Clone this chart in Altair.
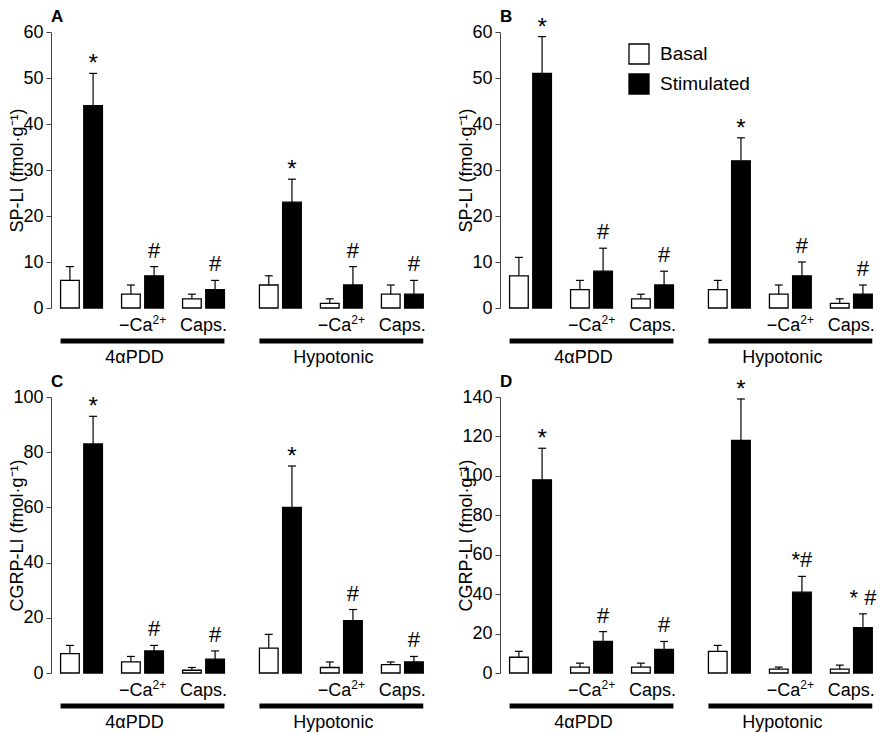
import altair as alt
import pandas as pd

# ---------------- data ----------------
treatments = ["4αPDD", "Hypotonic"]
cond_base = ["", "−Ca", "Caps."]
cond_sup = ["", "2+", ""]
series = ["Basal", "Stimulated"]

a_basal = [6, 3, 2, 5, 1, 3]
a_basal_err = [3, 2, 1, 2, 1, 2]
a_stim = [44, 7, 4, 23, 5, 3]
a_stim_err = [7, 2, 2, 5, 4, 3]
a_marks = ["*", "#", "#", "*", "#", "#"]

b_basal = [7, 4, 2, 4, 3, 1]
b_basal_err = [4, 2, 1, 2, 2, 1]
b_stim = [51, 8, 5, 32, 7, 3]
b_stim_err = [8, 5, 3, 5, 3, 2]
b_marks = ["*", "#", "#", "*", "#", "#"]

c_basal = [7, 4, 1, 9, 2, 3]
c_basal_err = [3, 2, 1, 5, 2, 1]
c_stim = [83, 8, 5, 60, 19, 4]
c_stim_err = [10, 2, 3, 15, 4, 2]
c_marks = ["*", "#", "#", "*", "#", "#"]

d_basal = [8, 3, 3, 11, 2, 2]
d_basal_err = [3, 2, 2, 3, 1, 2]
d_stim = [98, 16, 12, 118, 41, 23]
d_stim_err = [16, 5, 4, 21, 8, 7]
d_marks = ["*", "#", "#", "*", "*#", "* #"]

# ---------------- layout ----------------
W, H = 368, 276
GROUP_GAP = 0.26
PAIR_OFF = 0.19
BAR_HALF = 0.153
CAP_HALF = 0.065
XDOM = [-0.5, 5.533]
FONT = "Liberation Sans"


def pair_pos(i):
    g, k = divmod(i, 3)
    return g * (3 + GROUP_GAP) + k


def panel(letter, basal, berr, stim, serr, marks, ymax, ystep, ytitle, legend):
    rows = []
    for i in range(6):
        p = pair_pos(i)
        for s, v, e, off in [("Basal", basal[i], berr[i], -PAIR_OFF),
                             ("Stimulated", stim[i], serr[i], PAIR_OFF)]:
            c = p + off
            rows.append(dict(series=s, xc=c, xl=c - BAR_HALF, xr=c + BAR_HALF,
                             cl=c - CAP_HALF, cr=c + CAP_HALF,
                             value=v, upper=v + e))
    bars = pd.DataFrame(rows)

    ann = pd.DataFrame([dict(xc=pair_pos(i) + PAIR_OFF, upper=stim[i] + serr[i], text=marks[i])
                        for i in range(6)])
    ann_star = ann[ann.text == "*"]
    ann_other = ann[ann.text != "*"]

    cats = pd.DataFrame([dict(pos=pair_pos(i), base=cond_base[i % 3], sup=cond_sup[i % 3])
                         for i in range(6) if i % 3 != 0])
    cats_plain = cats[cats.sup == ""]
    cats_sup = cats[cats.sup != ""]
    groups = pd.DataFrame([dict(xl=pair_pos(3 * g) - PAIR_OFF - BAR_HALF,
                                xr=pair_pos(3 * g + 2) + PAIR_OFF + BAR_HALF,
                                xc=pair_pos(3 * g + 1), label=treatments[g])
                           for g in range(2)])
    lettr = pd.DataFrame([dict(label=letter)])

    xs = alt.Scale(domain=XDOM, nice=False, zero=False)
    ys = alt.Scale(domain=[0, ymax], nice=False)
    yax = alt.Axis(values=list(range(0, ymax + 1, ystep)), title=ytitle, grid=False,
                   tickSize=5, labelPadding=3, domainColor="#444", tickColor="#444",
                   titleX=-25, titleY=H / 2, titleFontWeight="normal")

    def X(f):
        return alt.X(f, type="quantitative", scale=xs, axis=None)

    def Y(f):
        return alt.Y(f, type="quantitative", scale=ys, axis=yax)

    fill = alt.Fill("series:N", scale=alt.Scale(domain=series, range=["white", "black"]),
                    legend=legend)

    bar = alt.Chart(bars).mark_bar(stroke="black", strokeWidth=1.3).encode(
        x=X("xl"), x2="xr:Q", y=Y("value"), y2=alt.datum(0), fill=fill)
    err = alt.Chart(bars).mark_rule(color="black", strokeWidth=1.2).encode(
        x=X("xc"), y=Y("value"), y2="upper:Q")
    cap = alt.Chart(bars).mark_rule(color="black", strokeWidth=1.2).encode(
        x=X("cl"), x2="cr:Q", y=Y("upper"))
    star = alt.Chart(ann_star).mark_text(font=FONT, fontSize=24, baseline="alphabetic",
                                         dy=-2, color="black").encode(
        x=X("xc"), y=Y("upper"), text="text:N")
    hsh = alt.Chart(ann_other).mark_text(font=FONT, fontSize=22, baseline="alphabetic",
                                         dy=-9, color="black").encode(
        x=X("xc"), y=Y("upper"), text="text:N")
    cat = alt.Chart(cats_plain).mark_text(font=FONT, fontSize=18, baseline="alphabetic",
                                          color="black").encode(
        x=X("pos"), y=alt.value(H + 23), text="base:N")
    catb = alt.Chart(cats_sup).mark_text(font=FONT, fontSize=18, baseline="alphabetic",
                                         align="right", dx=10, color="black").encode(
        x=X("pos"), y=alt.value(H + 23), text="base:N")
    cats_ = alt.Chart(cats_sup).mark_text(font=FONT, fontSize=12, baseline="alphabetic",
                                          align="left", dx=10, color="black").encode(
        x=X("pos"), y=alt.value(H + 16), text="sup:N")
    grule = alt.Chart(groups).mark_rule(color="black", strokeWidth=5).encode(
        x=X("xl"), x2="xr:Q", y=alt.value(H + 33))
    glab = alt.Chart(groups).mark_text(font=FONT, fontSize=18, baseline="alphabetic", dx=-8,
                                       color="black").encode(
        x=X("xc"), y=alt.value(H + 55), text="label:N")
    let = alt.Chart(lettr).mark_text(font=FONT, fontSize=17, fontWeight="bold",
                                     baseline="alphabetic", align="left",
                                     color="black").encode(
        x=alt.value(0), y=alt.value(-10), text="label:N")

    return alt.layer(bar, err, cap, star, hsh, cat, catb, cats_, grule, glab, let).properties(
        width=W, height=H)


legend_b = alt.Legend(orient="none", legendX=128, legendY=11, title=None,
                      symbolType="square", symbolSize=400, symbolStrokeColor="black",
                      symbolStrokeWidth=1.3, labelFont=FONT, labelFontSize=19,
                      labelColor="black", rowPadding=4, labelOffset=10, padding=0)

pa = panel("A", a_basal, a_basal_err, a_stim, a_stim_err, a_marks, 60, 10,
           "SP-LI (fmol·g⁻¹)", None)
pb = panel("B", b_basal, b_basal_err, b_stim, b_stim_err, b_marks, 60, 10,
           "SP-LI (fmol·g⁻¹)", legend_b)
pc = panel("C", c_basal, c_basal_err, c_stim, c_stim_err, c_marks, 100, 20,
           "CGRP-LI (fmol·g⁻¹)", None)
pd_ = panel("D", d_basal, d_basal_err, d_stim, d_stim_err, d_marks, 140, 20,
            "CGRP-LI (fmol·g⁻¹)", None)

chart = alt.concat(pa, pb, pc, pd_, columns=2, spacing={"row": 6, "column": 31}).resolve_scale(
    fill="independent").resolve_legend(fill="independent").properties(padding=0).configure_view(
    stroke=None).configure_axis(labelFont=FONT, titleFont=FONT, labelFontSize=18,
                                titleFontSize=18, labelColor="black", titleColor="black")

chart.save("out.html", embed_options={"renderer": "svg", "actions": False})
